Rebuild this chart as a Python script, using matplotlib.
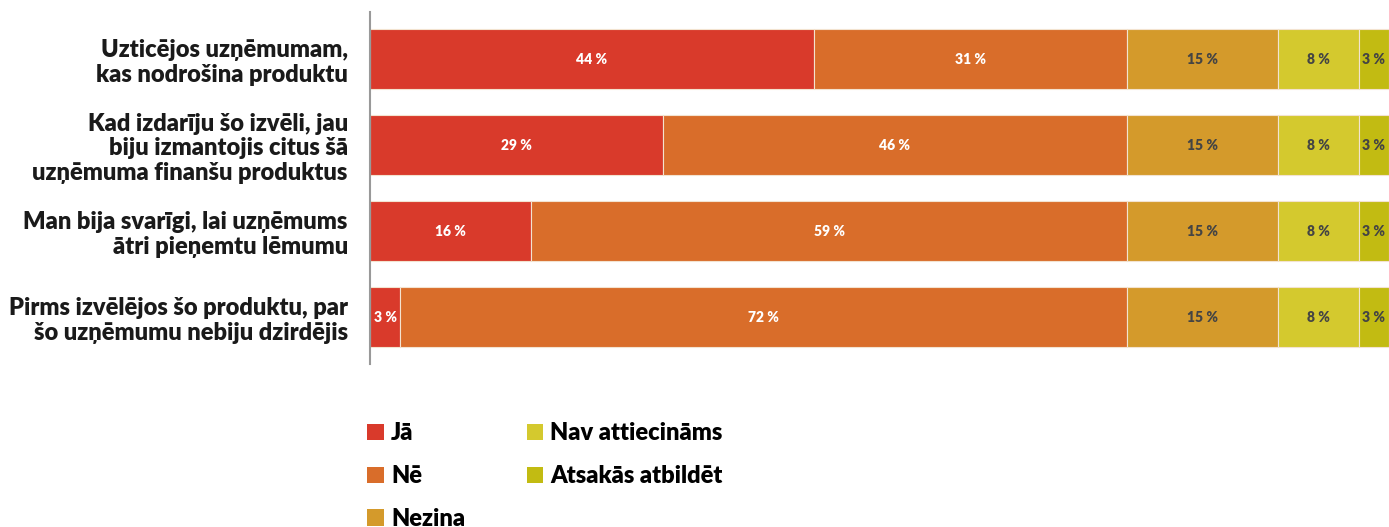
import matplotlib.pyplot as plt
import numpy as np
from matplotlib.patches import Patch

# data
questions = [
    "Uzticējos uzņēmumam,\nkas nodrošina produktu",
    "Kad izdarīju šo izvēli, jau\nbiju izmantojis citus šā\nuzņēmuma finanšu produktus",
    "Man bija svarīgi, lai uzņēmums\nātri pieņemtu lēmumu",
    "Pirms izvēlējos šo produktu, par\nšo uzņēmumu nebiju dzirdējis",
]
answers = ["Jā", "Nē", "Nezina", "Nav attiecināms", "Atsakās atbildēt"]
ja = [44, 29, 16, 3]
ne = [31, 46, 59, 72]
nezina = [15, 15, 15, 15]
nav = [8, 8, 8, 8]
atsakas = [3, 3, 3, 3]

colors = ["#D93A2B", "#D96D2A", "#D49A2B", "#D4C92E", "#C2BB12"]
label_colors = ["white", "white", "#444444", "#444444", "#444444"]

plt.rcParams["font.family"] = ["Lato", "DejaVu Sans"]

fig = plt.figure(figsize=(13.89, 5.27), dpi=100)
ax = fig.add_axes([370 / 1389, 1 - 360 / 527, 1 - 370 / 1389, 344 / 527])

series = [ja, ne, nezina, nav, atsakas]
y = np.arange(len(questions))
left = np.zeros(len(questions))
for vals, col, lcol in zip(series, colors, label_colors):
    vals = np.array(vals, dtype=float)
    ax.barh(y, vals, left=left, height=0.69, color=col,
            edgecolor="#F3E3D0", linewidth=0.8)
    for yi, l, v in zip(y, left, vals):
        ax.text(l + v / 2, yi, f"{int(v)} %", ha="center", va="center",
                color=lcol, fontsize=10, fontweight="heavy")
    left += vals

ax.set_xlim(0, 101)
ax.set_ylim(3.5, -0.5)
ax.set_yticks(y)
ax.set_yticklabels(questions, fontsize=17, fontweight="heavy", color="#1a1a1a",
                   linespacing=1.15)
ax.tick_params(axis="y", length=0, pad=16)
ax.set_xticks([])
for s in ["top", "right", "bottom"]:
    ax.spines[s].set_visible(False)
ax.spines["left"].set_color("#999999")
ax.spines["left"].set_linewidth(1.5)
ax.spines["left"].set_bounds(3.55, -0.55)

handles = [Patch(facecolor=c, edgecolor="none") for c in colors]
fig.legend(handles, answers, loc="upper left", ncol=2,
           bbox_to_anchor=(358 / 1389, 1 - 413 / 527), frameon=False,
           prop={"family": ["Lato", "DejaVu Sans"], "weight": "heavy", "size": 17},
           handlelength=0.7, handleheight=0.7, handletextpad=0.3,
           columnspacing=2.6, labelspacing=0.88, borderaxespad=0)

fig.savefig("out.png", dpi=100)
